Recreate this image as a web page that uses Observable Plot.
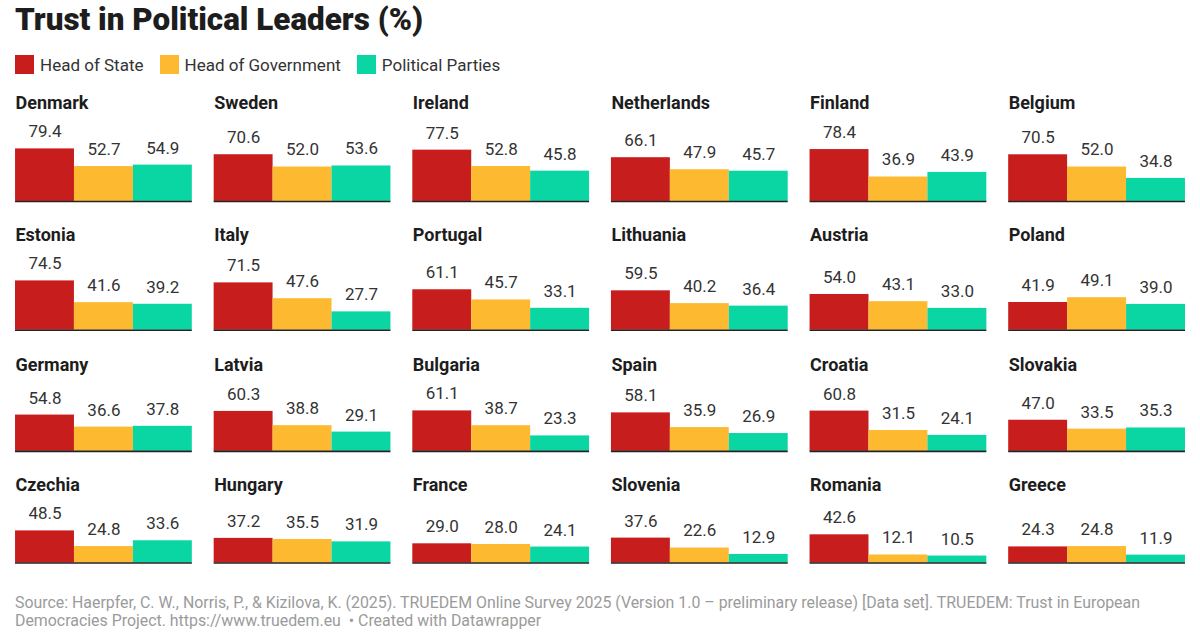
<!DOCTYPE html>
<html><head><meta charset="utf-8">
<script src="https://cdn.jsdelivr.net/npm/d3@7"></script>
<script src="https://cdn.jsdelivr.net/npm/@observablehq/plot@0.6"></script>
<style>
body{margin:0;background:#fff;font-family:Roboto, "Noto Sans", sans-serif;}
#wrap{position:relative;width:1200px;height:633px;overflow:hidden;background:#fff;}
#title{position:absolute;left:15px;top:4px;font-size:31.4px;line-height:31px;font-weight:900;color:#1d1d1d;white-space:nowrap;}
#legend{position:absolute;left:15px;top:55px;height:19px;display:flex;align-items:center;font-size:17px;color:#333;white-space:nowrap;}
#legend .sw{width:19px;height:19px;margin-right:6px;display:inline-block;}
#legend .it{display:flex;align-items:center;margin-right:16px;}
#footer{position:absolute;left:15px;top:593.6px;font-size:15.9px;line-height:18.4px;color:#9b9b9b;white-space:nowrap;}
svg.row{position:absolute;left:0;}
</style></head><body><div id="wrap">
<div id="title">Trust in Political Leaders (%)</div>
<div id="legend"></div>
<div id="footer">Source: Haerpfer, C. W., Norris, P., &amp; Kizilova, K. (2025). TRUEDEM Online Survey 2025 (Version 1.0 – preliminary release) [Data set]. TRUEDEM: Trust in European<br>Democracies Project. https://www.truedem.eu &nbsp;• Created with Datawrapper</div>
</div>
<script>
const countries = ["Denmark","Sweden","Ireland","Netherlands","Finland","Belgium",
  "Estonia","Italy","Portugal","Lithuania","Austria","Poland",
  "Germany","Latvia","Bulgaria","Spain","Croatia","Slovakia",
  "Czechia","Hungary","France","Slovenia","Romania","Greece"];
const headOfState = [79.4,70.6,77.5,66.1,78.4,70.5, 74.5,71.5,61.1,59.5,54.0,41.9, 54.8,60.3,61.1,58.1,60.8,47.0, 48.5,37.2,29.0,37.6,42.6,24.3];
const headOfGovernment = [52.7,52.0,52.8,47.9,36.9,52.0, 41.6,47.6,45.7,40.2,43.1,49.1, 36.6,38.8,38.7,35.9,31.5,33.5, 24.8,35.5,28.0,22.6,12.1,24.8];
const politicalParties = [54.9,53.6,45.8,45.7,43.9,34.8, 39.2,27.7,33.1,36.4,33.0,39.0, 37.8,29.1,23.3,26.9,24.1,35.3, 33.6,31.9,24.1,12.9,10.5,11.9];
const measures = ["Head of State","Head of Government","Political Parties"];
const colors = ["#c71e1d","#fdb92f","#0ad6a4"];
const perRow = 6;

const series = [headOfState, headOfGovernment, politicalParties];
const table = countries.flatMap((c, i) => measures.map((m, j) => ({
  country: c, measure: m, value: series[j][i], row: Math.floor(i / perRow)
})));

// legend
const legend = document.getElementById("legend");
measures.forEach((m, j) => {
  const it = document.createElement("span");
  it.className = "it";
  it.innerHTML = `<span class="sw" style="background:${colors[j]}"></span><span>${m}</span>`;
  legend.appendChild(it);
});

const wrap = document.getElementById("wrap");
const rowTops = [91, 223, 353, 473];
const pxPerPoint = 0.662;
const marginTop = 57.4, marginBottom = 3;

rowTops.forEach((top, r) => {
  const rowData = table.filter(d => d.row === r);
  const rowCountries = countries.slice(r * perRow, r * perRow + perRow);
  const rowMax = d3.max(rowData, d => d.value);
  const chart = Plot.plot({
    width: 1200,
    height: marginTop + rowMax * pxPerPoint + marginBottom,
    marginLeft: 15, marginRight: 15, marginTop, marginBottom,
    fx: {domain: rowCountries, paddingInner: 0.11, paddingOuter: 0, round: false, axis: null, label: null},
    x: {domain: measures, padding: 0, round: false, axis: null},
    y: {domain: [0, rowMax], axis: null},
    color: {domain: measures, range: colors},
    style: {fontFamily: "Roboto", overflow: "visible", background: "transparent"},
    marks: [
      Plot.barY(rowData, {fx: "country", x: "measure", y: "value", fill: "measure"}),
      Plot.ruleY([0], {stroke: "#222", strokeWidth: 1.6}),
      Plot.text(rowData, {fx: "country", x: "measure", y: "value", text: d => d.value.toFixed(1),
        dy: -17, lineAnchor: "middle", fontSize: 17, fill: "#333"}),
      Plot.text(rowCountries, {fx: d => d, text: d => d, frameAnchor: "top-left", dy: -45.4,
        lineAnchor: "middle", textAnchor: "start", fontSize: 18, fontWeight: 700,
        letterSpacing: "0.3px", fill: "#1d1d1d"})
    ]
  });
  chart.classList.add("row");
  chart.style.top = top + "px";
  wrap.appendChild(chart);
});
</script>
</body></html>
